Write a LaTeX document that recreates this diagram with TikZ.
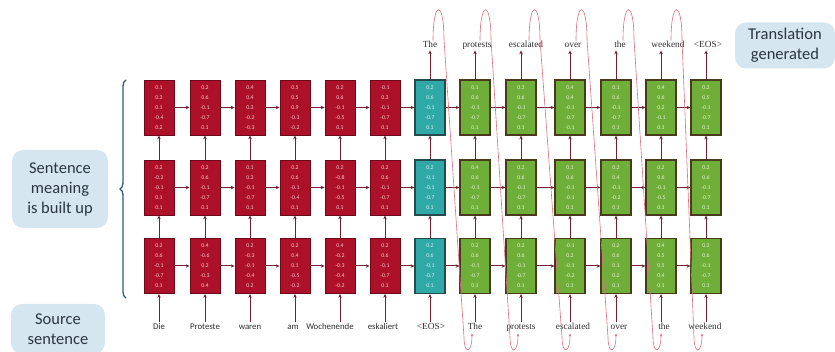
\documentclass[tikz,border=0pt]{standalone}
\usepackage{fontspec}
\setmainfont{Carlito}
\newfontfamily\decw{Liberation Serif}
\usetikzlibrary{arrows.meta,decorations.pathreplacing,calc}
\definecolor{encred}{HTML}{AC1129}
\definecolor{encborder}{HTML}{6E0A18}
\definecolor{enctext}{HTML}{F6C9CF}
\definecolor{decgreen}{HTML}{6FAE38}
\definecolor{decborder}{HTML}{4A3A1C}
\definecolor{dectext}{HTML}{E6F4D6}
\definecolor{teal}{HTML}{2EA9A7}
\definecolor{tealborder}{HTML}{274A4A}
\definecolor{tealtext}{HTML}{D8F2F2}
\definecolor{arrcol}{HTML}{6E2232}
\definecolor{loopcol}{HTML}{D9707F}
\definecolor{callfill}{HTML}{D6E6F1}
\definecolor{calltext}{HTML}{2A3642}
\definecolor{bracecol}{HTML}{2E5C7A}
\definecolor{wordcol}{HTML}{2E2E2E}
\newcommand\nums[5]{#1\\#2\\#3\\#4\\#5}
\begin{document}
\begin{tikzpicture}[x=1pt,y=-1pt,
  cell/.style={draw, line width=0.9pt, minimum width=30pt, minimum height=55pt,
    inner sep=0pt, align=center, font=\fontsize{5.8}{10}\selectfont},
  enc/.style={cell, fill=encred, draw=encborder, text=enctext},
  dec/.style={cell, fill=decgreen, draw=decborder, text=dectext, line width=1.2pt},
  eos/.style={cell, fill=teal, draw=tealborder, text=tealtext, line width=1.2pt},
  arr/.style={draw=arrcol, line width=1pt, -{Stealth[length=3.8pt,width=3.4pt]}},
  loopln/.style={draw=loopcol, line width=0.6pt, -{Stealth[length=3pt,width=2.6pt]}},
  inword/.style={text=wordcol, inner sep=1pt, text height=6.5pt, text depth=2pt, font=\fontsize{8.8}{10}\selectfont},
  decword/.style={text=wordcol, inner sep=1pt, text height=6.5pt, text depth=2pt, font=\decw\fontsize{9.3}{10}\selectfont},
  callout/.style={fill=callfill, rounded corners=11pt, align=center, text=calltext,
    font=\fontsize{16.5}{20}\selectfont, inner sep=0pt}
]
\useasboundingbox (0,0) rectangle (835,352);

% callouts
\node[callout, minimum width=100pt, minimum height=46pt] (cTrans) at (785,45.5) {Translation\\generated};
\node[callout, minimum width=96pt, minimum height=78pt] (cMean) at (60,189) {Sentence\\meaning\\is built up};
\node[callout, minimum width=94pt, minimum height=50pt] (cSrc) at (58,329) {Source\\sentence};

% brace
\draw[decorate, decoration={brace, amplitude=6pt}, line width=1.3pt, draw=bracecol, line cap=round]
  (126,298) -- (126,80);

% top row
\node[enc] (t1) at (159,107.5) {\nums{0.1}{0.3}{0.1}{-0.4}{0.2}};
\node[enc] (t2) at (205,107.5) {\nums{0.2}{0.6}{-0.1}{-0.7}{0.1}};
\node[enc] (t3) at (250,107.5) {\nums{0.4}{0.4}{0.3}{-0.2}{-0.3}};
\node[enc] (t4) at (295,107.5) {\nums{0.5}{0.5}{0.9}{-0.3}{-0.2}};
\node[enc] (t5) at (340,107.5) {\nums{0.2}{0.6}{-0.1}{-0.5}{0.1}};
\node[enc] (t6) at (385,107.5) {\nums{-0.1}{0.3}{-0.1}{-0.7}{0.1}};
\node[eos] (t7) at (430,107.5) {\nums{0.2}{0.6}{-0.1}{-0.7}{0.1}};
\node[dec] (t8) at (475,107.5) {\nums{0.1}{0.6}{-0.1}{-0.7}{0.1}};
\node[dec] (t9) at (521,107.5) {\nums{0.3}{0.6}{-0.1}{-0.7}{0.1}};
\node[dec] (t10) at (570,107.5) {\nums{0.4}{0.4}{-0.1}{-0.7}{-0.1}};
\node[dec] (t11) at (616,107.5) {\nums{0.1}{0.6}{-0.1}{-0.7}{0.1}};
\node[dec] (t12) at (661,107.5) {\nums{0.4}{0.6}{0.2}{-0.1}{0.1}};
\node[dec] (t13) at (706,107.5) {\nums{0.2}{0.5}{-0.1}{-0.7}{0.1}};

% middle row
\node[enc] (m1) at (159,187.5) {\nums{0.2}{-0.2}{-0.1}{0.1}{0.1}};
\node[enc] (m2) at (205,187.5) {\nums{0.2}{0.6}{-0.1}{-0.7}{0.1}};
\node[enc] (m3) at (250,187.5) {\nums{0.1}{0.3}{-0.1}{-0.7}{0.1}};
\node[enc] (m4) at (295,187.5) {\nums{0.2}{0.6}{-0.1}{-0.4}{0.1}};
\node[enc] (m5) at (340,187.5) {\nums{0.2}{-0.8}{-0.1}{-0.5}{0.1}};
\node[enc] (m6) at (385,187.5) {\nums{0.2}{0.6}{-0.1}{-0.7}{0.1}};
\node[eos] (m7) at (430,187.5) {\nums{0.2}{-0.1}{-0.1}{-0.7}{0.1}};
\node[dec] (m8) at (475,187.5) {\nums{0.4}{0.6}{-0.1}{-0.7}{0.1}};
\node[dec] (m9) at (521,187.5) {\nums{0.2}{0.6}{-0.1}{-0.7}{0.1}};
\node[dec] (m10) at (570,187.5) {\nums{0.1}{0.6}{-0.1}{-0.1}{0.1}};
\node[dec] (m11) at (616,187.5) {\nums{0.2}{0.4}{-0.1}{-0.2}{0.1}};
\node[dec] (m12) at (661,187.5) {\nums{0.2}{0.6}{-0.1}{-0.5}{0.1}};
\node[dec] (m13) at (706,187.5) {\nums{0.2}{0.6}{-0.1}{-0.7}{0.1}};

% bottom row
\node[enc] (b1) at (159,266) {\nums{0.2}{0.6}{-0.1}{-0.7}{0.1}};
\node[enc] (b2) at (205,266) {\nums{0.4}{-0.6}{0.2}{-0.3}{0.4}};
\node[enc] (b3) at (250,266) {\nums{0.2}{-0.3}{-0.1}{-0.4}{0.2}};
\node[enc] (b4) at (295,266) {\nums{0.2}{0.4}{0.1}{-0.5}{-0.2}};
\node[enc] (b5) at (340,266) {\nums{0.4}{-0.2}{-0.3}{-0.4}{-0.2}};
\node[enc] (b6) at (385,266) {\nums{0.2}{0.6}{-0.1}{-0.7}{0.1}};
\node[eos] (b7) at (430,266) {\nums{0.2}{0.6}{-0.1}{-0.7}{0.1}};
\node[dec] (b8) at (475,266) {\nums{0.2}{0.6}{-0.1}{-0.7}{0.1}};
\node[dec] (b9) at (521,266) {\nums{0.2}{0.6}{-0.1}{-0.7}{0.1}};
\node[dec] (b10) at (570,266) {\nums{-0.1}{0.2}{-0.1}{-0.2}{0.1}};
\node[dec] (b11) at (616,266) {\nums{0.2}{0.6}{0.1}{0.2}{0.1}};
\node[dec] (b12) at (661,266) {\nums{0.4}{0.5}{0.5}{0.4}{0.1}};
\node[dec] (b13) at (706,266) {\nums{0.2}{0.6}{-0.1}{-0.7}{0.1}};

% input words
\node[inword] (w1) at (159,327) {Die};
\node[inword] (w2) at (205,327) {Proteste};
\node[inword] (w3) at (250,327) {waren};
\node[inword] (w4) at (293,327) {am};
\node[inword] (w5) at (330,327) {Wochenende};
\node[inword] (w6) at (383,327) {eskaliert};
\node[decword] (w7) at (431,327) {<EOS>};
\node[decword] (w8) at (475,327) {The};
\node[decword] (w9) at (521,327) {protests};
\node[decword] (w10) at (573,327) {escalated};
\node[decword] (w11) at (619,327) {over};
\node[decword] (w12) at (664,327) {the};
\node[decword] (w13) at (705,327) {weekend};

% output words
\node[decword] (o7) at (430,45) {The};
\node[decword] (o8) at (477,45) {protests};
\node[decword] (o9) at (526,45) {escalated};
\node[decword] (o10) at (573,45) {over};
\node[decword] (o11) at (620,45) {the};
\node[decword] (o12) at (668,45) {weekend};
\node[decword] (o13) at (708,45) {<EOS>};

% horizontal arrows
\foreach \i in {1,...,12} {
  \pgfmathtruncatemacro\j{\i+1}
  \draw[arr] (t\i) -- (t\j);
  \draw[arr] (m\i) -- (m\j);
  \draw[arr] (b\i) -- (b\j);
}
% vertical arrows
\foreach \i in {1,...,13} {
  \draw[arr] (w\i.north -| b\i.south) -- (b\i.south);
  \draw[arr] (b\i) -- (m\i);
  \draw[arr] (m\i) -- (t\i);
}
\foreach \i in {7,...,13} {
  \draw[arr] (t\i.north) -- (t\i.north |- o\i.south);
}

% feedback loops
\foreach \i in {7,...,12} {
  \pgfmathtruncatemacro\j{\i+1}
  \draw[loopln] ($(o\i.north)+(3,1)$)
     .. controls ($(o\i.north)+(3,-40)$) and ($(o\i.north)+(14,-40)$) .. ($(o\i.north)+(14,0)$)
     -- ($(w\j.south)+(-11,5)$)
     .. controls ($(w\j.south)+(-11,22)$) and ($(w\j.south)+(-3,22)$) .. ($(w\j.south)+(-3,1)$);
}
\end{tikzpicture}
\end{document}
